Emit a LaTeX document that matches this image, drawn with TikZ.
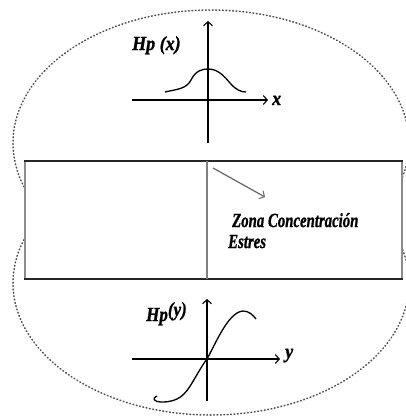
\documentclass[tikz,border=0pt]{standalone}
\usepackage{fontspec}
\setmainfont{Liberation Serif}
\newfontfamily\lblfamily{Liberation Serif}[BoldItalicFeatures={FakeBold=1.2}]
\usetikzlibrary{arrows.meta}
\begin{document}
\begin{tikzpicture}[x=1pt,y=-1pt,
  dots/.style={draw=black!70,line width=1.5pt,dash pattern=on 0.8pt off 2.6pt,line cap=round},
  axis/.style={line width=1.4pt,-{Straight Barb[length=4pt,width=9pt,line width=1.1pt]}},
  curve/.style={line width=1.3pt},
  lbl/.style={inner sep=0pt,font=\lblfamily\fontsize{20}{22}\selectfont\bfseries\itshape},
]
\useasboundingbox (0,0) rectangle (406,418);
% dotted outlines
\begin{scope}
  \clip (0,0) rectangle (406,200);
  \draw[dots] (211,143) ellipse [x radius=198,y radius=133];
\end{scope}
\begin{scope}
  \clip (0,235) rectangle (406,418);
  \draw[dots] (211,283) ellipse [x radius=198,y radius=132];
\end{scope}
% plate
\node (plate) [draw=none,fill=white,minimum width=377pt,minimum height=118pt,inner sep=0pt] at (213.5,220) {};
\draw[black!45,line width=2pt] (plate.north west) -- (plate.south west);
\draw[black!45,line width=2pt] (plate.north east) -- (plate.south east);
\draw[black!85,line width=2.2pt] ([xshift=-1pt]plate.north west) -- ([xshift=1pt]plate.north east);
\draw[black!85,line width=2.2pt] ([xshift=-1pt]plate.south west) -- ([xshift=1pt]plate.south east);
\coordinate (mtop) at (207,161);
\coordinate (mbot) at (207,279);
\draw[black!50,line width=1.3pt] (mtop) -- (mbot);
\coordinate (zs) at (213,168);
\coordinate (ze) at (265,197);
\draw[black!60,line width=1.2pt,-{Straight Barb[length=4pt,width=9pt,line width=1pt]}] (zs) -- (ze);
\node (zona) [lbl,anchor=base west] at (232,227) {\scalebox{0.74}[1]{Zona Concentración}};
\node (estres) [lbl,anchor=base west] at (228,248) {\scalebox{0.74}[1]{Estres}};
% top graph
\coordinate (tvb) at (208,143);
\coordinate (tvt) at (208,21);
\coordinate (thl) at (132,100);
\coordinate (thr) at (268,100);
\draw[axis] (tvb) -- (tvt);
\draw[axis] (thl) -- (thr);
\node (xl) [lbl,anchor=base west] at (272,105) {\scalebox{0.9}[1]{x}};
\node (hpx) [lbl,anchor=base west] at (132,50) {\scalebox{0.9}[1]{Hp (x)}};
\draw[curve] (165,92) .. controls (178,89) and (186,89) .. (191,80)
  .. controls (196,70) and (203,69) .. (208,69)
  .. controls (218,69) and (224,76) .. (230,83)
  .. controls (236,90) and (241,92) .. (246,92);
% bottom graph
\coordinate (bvb) at (207,401);
\coordinate (bvt) at (207,299);
\coordinate (bhl) at (132,359);
\coordinate (bhr) at (280,359);
\draw[axis] (bvb) -- (bvt);
\draw[axis] (bhl) -- (bhr);
\node (yl) [lbl,anchor=base west] at (285,358) {\scalebox{0.9}[1]{y}};
\node (hpy) [lbl,anchor=base west] at (146,321) {\scalebox{0.85}[1]{Hp\raisebox{5pt}{(y)}}};
\draw[curve] (157,396) .. controls (152,398) and (153,402) .. (162,402)
  .. controls (178,402) and (185,395) .. (192,383)
  .. controls (198,373) and (203,364) .. (207,359)
  .. controls (215,345) and (228,312) .. (243,311)
  .. controls (249,311) and (253,315) .. (256,319);
\end{tikzpicture}
\end{document}
